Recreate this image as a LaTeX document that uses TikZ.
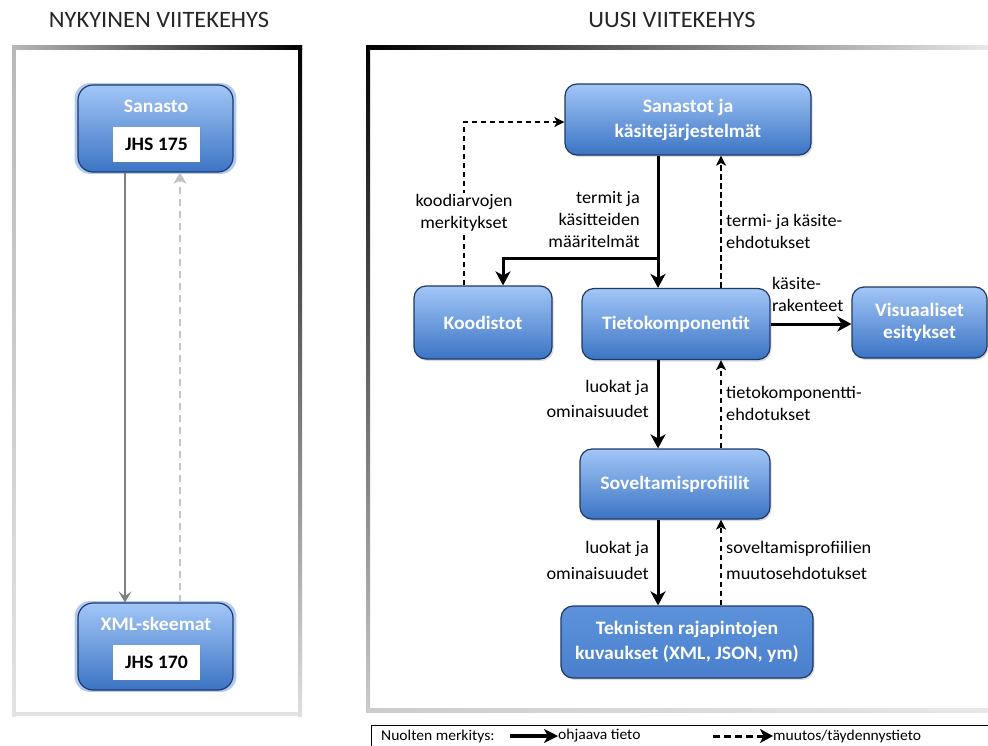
\documentclass[tikz,border=0pt]{standalone}
\usepackage{fontspec}
\setmainfont[FakeStretch=1.04]{Carlito}
\usetikzlibrary{arrows.meta,shadows,calc}
\definecolor{boxtop}{HTML}{A2C6F7}
\definecolor{boxbot}{HTML}{3B74C4}
\definecolor{boxline}{HTML}{1F3866}
\definecolor{tektop}{HTML}{5D92DB}
\definecolor{tekbot}{HTML}{4A7FCD}
\definecolor{glowc}{HTML}{8FB4EE}
\definecolor{lgray}{HTML}{7F7F7F}
\definecolor{ldash}{HTML}{C4C4C4}
\begin{document}
\begin{tikzpicture}[x=1pt,y=-1pt,
  bluebox/.style={rectangle, rounded corners=12pt, draw=boxline, line width=1.2pt,
    top color=boxtop, bottom color=boxbot, text=white,
    font=\fontsize{19}{25}\selectfont\bfseries, align=center, inner sep=0pt,
    drop shadow={shadow xshift=1.5pt, shadow yshift=-2pt, opacity=0.28}},
  tekbox/.style={bluebox, top color=tektop, bottom color=tekbot},
  leftbox/.style={rectangle, rounded corners=15pt, draw=boxline, line width=1.2pt,
    top color=boxtop, bottom color=boxbot, inner sep=0pt,
    general shadow={shadow scale=1.045, fill=glowc, opacity=0.7}},
  ttl/.style={text=white, font=\fontsize{19}{23}\selectfont\bfseries, inner sep=0pt},
  whitebox/.style={rectangle, fill=white, inner sep=0pt, font=\fontsize{19}{23}\selectfont\bfseries,
    drop shadow={shadow xshift=1pt, shadow yshift=-1pt, opacity=0.25}},
  lbl/.style={font=\fontsize{17.6}{22}\selectfont, inner sep=1pt},
  lblb/.style={font=\fontsize{17.6}{25.5}\selectfont, inner sep=1pt},
  hd/.style={font=\fontsize{23.5}{26}\selectfont, text=black!85},
  lg/.style={font=\fontsize{15}{16}\selectfont, inner sep=0pt},
  ctrl/.style={line width=3pt, -{Stealth[length=14pt,width=15pt,inset=4pt]}},
  dsh/.style={line width=1.5pt, dash pattern=on 5.5pt off 3.5pt, -{Stealth[length=10pt,width=10pt,inset=2.5pt]}},
  gsol/.style={draw=lgray, line width=1.8pt, -{Stealth[length=11pt,width=13pt,inset=5pt,fill=lgray]}},
  gdash/.style={draw=ldash, line width=2.8pt, dash pattern=on 7pt off 5pt, -{Stealth[length=11pt,width=13pt,inset=3pt,fill=ldash]}},
  lgsol/.style={line width=3.6pt, -{Stealth[length=14pt,width=14pt,inset=4pt]}},
  lgdash/.style={line width=3pt, dash pattern=on 7pt off 4pt, -{Stealth[length=13pt,width=14pt,inset=3.5pt]}}
]
\useasboundingbox (0,0) rectangle (988,745);
\clip (0,0) rectangle (988,745);
\fill[white] (0,0) rectangle (988,745);

% headings
\node[hd] (h1) at (159,20) {NYKYINEN VIITEKEHYS};
\node[hd] (h2) at (672,20) {UUSI VIITEKEHYS};

% left frame
\shade[top color=gray!55, bottom color=gray!22] (12,45) rectangle (15.5,716);
\fill[gray!22] (12,712) rectangle (302,716);
\shade[top color=black, bottom color=gray!25] (298,45) rectangle (302,716);
\shade[left color=gray!55, right color=black] (12,45) rectangle (302,49);

% right frame
\shade[top color=black, bottom color=gray!40] (366,45) rectangle (370,712);
\shade[left color=gray!40, right color=gray!18] (366,708) rectangle (988,712);
\shade[left color=black, right color=gray!18] (366,45) rectangle (988,49.5);

% left nodes
\node[leftbox, minimum width=155pt, minimum height=87pt] (sanasto) at (155.5,128.5) {};
\node[ttl] (sanastoT) at (156,106) {Sanasto};
\node[whitebox, minimum width=87pt, minimum height=35pt] (jhs175) at (156.5,144.5) {JHS 175};
\node[leftbox, minimum width=155pt, minimum height=87pt] (xml) at (155.5,646.5) {};
\node[ttl] (xmlT) at (156,624) {XML-skeemat};
\node[whitebox, minimum width=87pt, minimum height=35pt] (jhs170) at (156.5,662.5) {JHS 170};

\coordinate (lx1) at (125,0);
\coordinate (lx2) at (180,0);
\draw[gsol] (sanasto.south -| lx1) -- (xml.north -| lx1);
\draw[gdash] (xml.north -| lx2) -- (sanasto.south -| lx2);

% right nodes
\node[bluebox, minimum width=246pt, minimum height=71pt] (san) at (688,119.5) {Sanastot ja\\käsitejärjestelmät};
\node[bluebox, minimum width=138pt, minimum height=73pt] (koo) at (483,322.5) {Koodistot};
\node[bluebox, minimum width=188pt, minimum height=71pt] (tie) at (676,324) {Tietokomponentit};
\node[bluebox, minimum width=135pt, minimum height=71pt, font=\fontsize{19}{22}\selectfont\bfseries] (vis) at (919.5,322.5) {Visuaaliset\\esitykset};
\node[bluebox, minimum width=190pt, minimum height=70pt] (sov) at (675,484) {Soveltamisprofiilit};
\node[tekbox, minimum width=252pt, minimum height=72pt] (tek) at (687,642) {Teknisten rajapintojen\\kuvaukset (XML, JSON, ym)};

\coordinate (xs) at (658,0);
\coordinate (xd) at (721,0);
\coordinate (xk) at (503,0);
\coordinate (xkd) at (464,0);
\coordinate (br) at (658,258);

% connectors
\draw[dsh] (koo.north -| xkd) |- ([yshift=-2.5pt]san.west);
\draw[ctrl] (san.south -| xs) -- (tie.north -| xs);
\draw[ctrl] (br) -| (koo.north -| xk);
\draw[dsh] (tie.north -| xd) -- (san.south -| xd);
\draw[ctrl] (tie.east) -- (tie.east -| vis.west);
\draw[ctrl] (tie.south -| xs) -- (sov.north -| xs);
\draw[dsh] (sov.north -| xd) -- (tie.south -| xd);
\draw[ctrl] (sov.south -| xs) -- (tek.north -| xs);
\draw[dsh] (tek.north -| xd) -- (sov.south -| xd);

% labels
\node[lbl, fill=white, align=center] (l1) at (464,213) {koodiarvojen\\merkitykset};
\node[lbl, align=right, anchor=east] (l2) at (641,220) {termit ja\\käsitteiden\\määritelmät};
\node[lbl, align=left, anchor=west] (l3) at (725,231.5) {termi- ja käsite-\\ehdotukset};
\node[lbl, align=left, anchor=west] (l4) at (771,294) {käsite-\\rakenteet};
\node[lblb, align=right, anchor=east] (l5) at (650,399) {luokat ja\\ominaisuudet};
\node[lbl, align=left, anchor=west] (l6) at (725,403) {tietokomponentti-\\ehdotukset};
\node[lblb, align=right, anchor=east] (l7) at (650,560.5) {luokat ja\\ominaisuudet};
\node[lblb, align=left, anchor=west] (l8) at (725,560.5) {soveltamisprofiilien\\muutosehdotukset};

% legend
\draw[line width=0.9pt] (371,725) rectangle (1000,760);
\node[lg, anchor=west] (lg1) at (381,736) {Nuolten merkitys:};
\coordinate (la1) at (510,736);
\node[lg, anchor=west] (lg2) at (558,736) {ohjaava tieto};
\draw[lgsol] (la1) -- (lg2.west);
\coordinate (la2) at (713,736);
\node[lg, anchor=west] (lg3) at (773,736) {muutos/täydennystieto};
\draw[lgdash] (la2) -- (lg3.west);
\end{tikzpicture}
\end{document}
